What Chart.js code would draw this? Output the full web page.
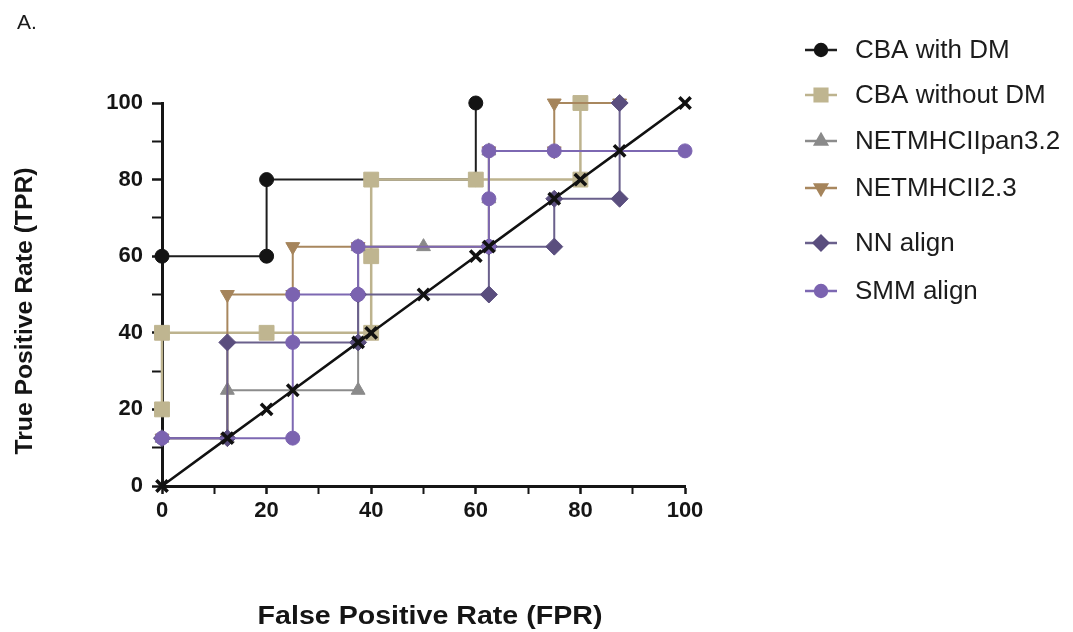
<!DOCTYPE html>
<html>
<head>
<meta charset="utf-8">
<script src="https://cdn.jsdelivr.net/npm/chart.js@4.4.1/dist/chart.umd.min.js"></script>
<style>
  html, body { margin: 0; padding: 0; background: #ffffff; }
  #wrap { width: 1073px; height: 632px; position: relative; }
</style>
</head>
<body>
<div id="wrap"><canvas id="c" width="1073" height="632"></canvas></div>
<script>
// ---- Data (FPR on x, TPR on y, in %) ----
const seriesNames = ["CBA with DM", "CBA without DM", "NETMHCIIpan3.2", "NETMHCII2.3", "NN align", "SMM align"];

const cbaWithDM_FPR = [0, 20, 20, 60, 60];
const cbaWithDM_TPR = [60, 60, 80, 80, 100];

const cbaWithoutDM_FPR = [0, 0, 20, 40, 40, 40, 60, 80, 80];
const cbaWithoutDM_TPR = [20, 40, 40, 40, 60, 80, 80, 80, 100];

const netPan32_FPR = [0, 12.5, 12.5, 37.5, 37.5, 50, 62.5, 62.5, 62.5];
const netPan32_TPR = [12.5, 12.5, 25, 25, 62.5, 62.5, 62.5, 75, 87.5];

const net23_FPR = [0, 12.5, 12.5, 25, 25, 37.5, 62.5, 62.5, 75, 75, 87.5];
const net23_TPR = [12.5, 12.5, 50, 50, 62.5, 62.5, 62.5, 87.5, 87.5, 100, 100];

const nnAlign_FPR = [0, 12.5, 12.5, 37.5, 37.5, 62.5, 62.5, 75, 75, 87.5, 87.5];
const nnAlign_TPR = [12.5, 12.5, 37.5, 37.5, 50, 50, 62.5, 62.5, 75, 75, 100];

const smmAlign_FPR = [0, 25, 25, 25, 37.5, 37.5, 62.5, 62.5, 62.5, 75, 100];
const smmAlign_TPR = [12.5, 12.5, 37.5, 50, 50, 62.5, 62.5, 75, 87.5, 87.5, 87.5];

// line of identity (reference diagonal) with its marked points
const identity_FPR = [0, 12.5, 20, 25, 37.5, 40, 50, 60, 62.5, 75, 80, 87.5, 100];
const identity_TPR = [0, 12.5, 20, 25, 37.5, 40, 50, 60, 62.5, 75, 80, 87.5, 100];

const xTickValues = [0, 20, 40, 60, 80, 100];
const yTickValues = [0, 20, 40, 60, 80, 100];

const xTitle = "False Positive Rate (FPR)";
const yTitle = "True Positive Rate (TPR)";
const panelLabel = "A.";

// ---- build ----
function pts(xs, ys) { return xs.map((x, i) => ({ x: x, y: ys[i] })); }

const styles = [
  { color: '#141414', line: '#1e1e1e', style: 'circle', r: 7, rot: 0, lw: 2 },
  { color: '#bfb590', line: '#bdb38e', style: 'rect', r: 10.5, rot: 0, lw: 2.5 },
  { color: '#8a8a8a', line: '#8c8c8c', style: 'triangle', r: 8, rot: 0, lw: 2 },
  { color: '#a5845b', line: '#a8875e', style: 'triangle', r: 8, rot: 180, lw: 2 },
  { color: '#5a4e7e', line: '#6a608c', style: 'rectRot', r: 8.5, rot: 0, lw: 2 },
  { color: '#7b63b0', line: '#7d68b2', style: 'circle', r: 7, rot: 0, lw: 2 }
];
const xsList = [cbaWithDM_FPR, cbaWithoutDM_FPR, netPan32_FPR, net23_FPR, nnAlign_FPR, smmAlign_FPR];
const ysList = [cbaWithDM_TPR, cbaWithoutDM_TPR, netPan32_TPR, net23_TPR, nnAlign_TPR, smmAlign_TPR];
const drawOrder = [6, 5, 4, 3, 2, 1];

const datasets = seriesNames.map((name, i) => ({
  label: name,
  data: pts(xsList[i], ysList[i]),
  showLine: true,
  borderColor: styles[i].line,
  backgroundColor: styles[i].color,
  borderWidth: styles[i].lw,
  pointStyle: styles[i].style,
  pointRadius: styles[i].r,
  pointHoverRadius: styles[i].r,
  pointRotation: styles[i].rot,
  pointBackgroundColor: styles[i].color,
  pointBorderColor: styles[i].color,
  pointBorderWidth: 1,
  tension: 0,
  clip: false,
  order: drawOrder[i]
}));

datasets.push({
  label: 'identity',
  data: pts(identity_FPR, identity_TPR),
  showLine: true,
  borderColor: '#111111',
  backgroundColor: '#111111',
  borderWidth: 2.5,
  pointStyle: 'crossRot',
  pointRadius: 8,
  pointHoverRadius: 8,
  pointBorderColor: '#111111',
  pointBorderWidth: 3.5,
  tension: 0,
  clip: false,
  order: 0,
  isIdentity: true
});

const FONT = "'Liberation Sans', Arial, Helvetica, sans-serif";

const decorPlugin = {
  id: 'decor',
  afterDraw(chart) {
    const ctx = chart.ctx;
    ctx.save();
    // panel label
    ctx.fillStyle = '#1a1a1a';
    ctx.font = '21px ' + FONT;
    ctx.textAlign = 'left';
    ctx.textBaseline = 'middle';
    ctx.fillText(panelLabel, 17, 23);
    // axis titles
    ctx.font = 'bold 24px ' + FONT;
    ctx.textAlign = 'center';
    ctx.textBaseline = 'middle';
    ctx.fillStyle = '#151515';
    ctx.save();
    ctx.translate(25, 311);
    ctx.rotate(-Math.PI / 2);
    ctx.scale(1.03, 1);
    ctx.fillText(yTitle, 0, 0);
    ctx.restore();
    ctx.save();
    ctx.font = 'bold 26px ' + FONT;
    ctx.translate(430, 617);
    ctx.scale(1.1, 1);
    ctx.fillText(xTitle, 0, 0);
    ctx.restore();
    // legend
    const rows = [50, 95, 141, 188, 243, 291];
    chart.data.datasets.forEach((ds, i) => {
      if (ds.isIdentity) return;
      const y = rows[i];
      ctx.strokeStyle = ds.borderColor;
      ctx.lineWidth = 2.5;
      ctx.beginPath();
      ctx.moveTo(805, y);
      ctx.lineTo(837, y);
      ctx.stroke();
      const r = ds.pointRadius * 0.85;
      ctx.fillStyle = ds.backgroundColor;
      ctx.strokeStyle = ds.backgroundColor;
      Chart.helpers.drawPoint(ctx, {
        pointStyle: ds.pointStyle,
        rotation: ds.pointRotation || 0,
        radius: r,
        borderWidth: 1
      }, 821, y);
      ctx.fillStyle = '#1c1c1c';
      ctx.font = '26px ' + FONT;
      ctx.textAlign = 'left';
      ctx.textBaseline = 'middle';
      ctx.fillText(ds.label, 855, y + 1);
    });
    ctx.restore();
  }
};

const tickFont = { family: FONT, size: 22, weight: 'bold' };

new Chart(document.getElementById('c'), {
  type: 'scatter',
  data: { datasets: datasets },
  options: {
    responsive: false,
    devicePixelRatio: 1,
    animation: false,
    layout: { padding: { left: 0, right: 388, top: 103, bottom: 0 } },
    plugins: { legend: { display: false }, tooltip: { enabled: false } },
    scales: {
      x: {
        type: 'linear', min: 0, max: 100,
        afterFit(scale) { scale.height = 146; },
        ticks: {
          stepSize: 10, autoSkip: false, maxRotation: 0, padding: 4,
          color: '#151515', font: tickFont,
          callback: (v) => xTickValues.includes(v) ? String(v) : ''
        },
        grid: {
          drawOnChartArea: false, drawTicks: true, tickLength: 8,
          tickColor: '#151515',
          tickWidth: (c) => (c.tick && xTickValues.includes(c.tick.value)) ? 2.5 : 2
        },
        border: { display: true, color: '#151515', width: 3 }
      },
      y: {
        type: 'linear', min: 0, max: 100,
        afterFit(scale) { scale.width = 162; },
        ticks: {
          stepSize: 10, autoSkip: false, padding: 9,
          color: '#151515', font: tickFont,
          callback: (v) => yTickValues.includes(v) ? String(v) : ''
        },
        grid: {
          drawOnChartArea: false, drawTicks: true, tickLength: 10,
          tickColor: '#151515',
          tickWidth: (c) => (c.tick && yTickValues.includes(c.tick.value)) ? 2.5 : 2
        },
        border: { display: true, color: '#151515', width: 3 }
      }
    }
  },
  plugins: [decorPlugin]
});
</script>
</body>
</html>
